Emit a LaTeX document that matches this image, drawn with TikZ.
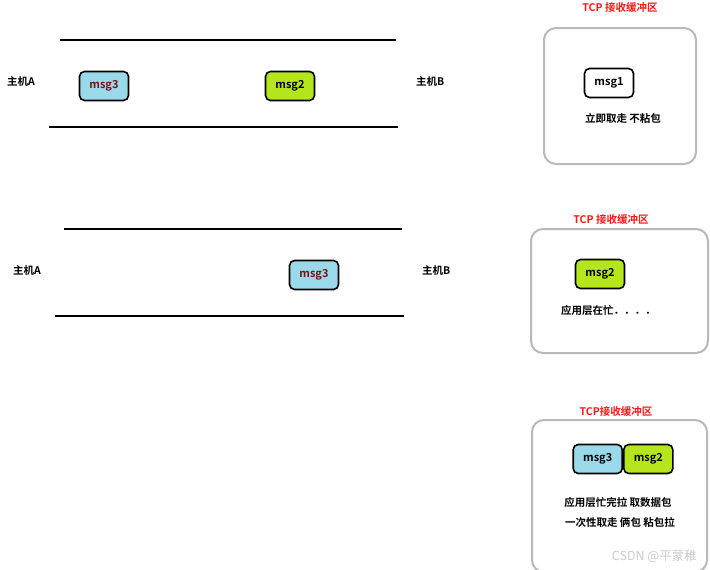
\documentclass[tikz,border=0pt]{standalone}
\usepackage{fontspec}
\setmainfont{Noto Sans CJK SC}[BoldFont={* Bold}]
\newfontfamily\cjkb{Noto Sans CJK SC Bold}
\begin{document}
\begin{tikzpicture}[x=1pt,y=-1pt,
  lbl/.style={font=\cjkb\fontsize{10.5}{12}\selectfont, inner sep=0pt},
  ttl/.style={font=\cjkb\fontsize{10.5}{12}\selectfont, inner sep=0pt, text=red!90!white},
  msgbox/.style={draw=black, line width=1.6pt, rounded corners=5pt, minimum width=49pt, minimum height=29pt, inner sep=0pt, font=\cjkb\fontsize{11}{12}\selectfont},
  blue3/.style={msgbox, fill=cyan3},
  green2/.style={msgbox, fill=green2c},
  wire/.style={line width=2pt, black},
  buf/.style={draw=gray!55, line width=2pt, rounded corners=12pt}]
\definecolor{cyan3}{HTML}{99D9EA}
\definecolor{green2c}{HTML}{B5E61D}
\definecolor{msgred}{HTML}{7A1212}
\useasboundingbox (0,0) rectangle (710,570);
\fill[white] (0,0) rectangle (710,570);
% ---------- panel 1 ----------
\coordinate (t1a) at (60,40); \coordinate (t1b) at (396,40);
\coordinate (b1a) at (49,127); \coordinate (b1b) at (398,127);
\draw[wire] (t1a) -- (t1b);
\draw[wire] (b1a) -- (b1b);
\node[lbl, anchor=west] (hA1) at (7,81) {主机A};
\node[lbl, anchor=west] (hB1) at (416,81) {主机B};
\node[blue3, text=msgred] (m31) at (104,86) {msg3};
\node[green2] (m21) at (290,86) {msg2};
\node[ttl] (ttl1) at (620,8) {TCP 接收缓冲区};
\draw[buf] (544,28) rectangle (696,164);
\node[msgbox, fill=white] (m11) at (609,83) {msg1};
\node[lbl] (txt1) at (623,118) {立即取走 不粘包};
% ---------- panel 2 ----------
\coordinate (t2a) at (64,229); \coordinate (t2b) at (402,229);
\coordinate (b2a) at (55,316); \coordinate (b2b) at (404,316);
\draw[wire] (t2a) -- (t2b);
\draw[wire] (b2a) -- (b2b);
\node[lbl, anchor=west] (hA2) at (13,270) {主机A};
\node[lbl, anchor=west] (hB2) at (422,270) {主机B};
\node[blue3, text=msgred] (m32) at (314,275) {msg3};
\node[ttl] (ttl2) at (611,220) {TCP 接收缓冲区};
\draw[buf] (531,229) rectangle (708,353);
\node[green2] (m22) at (600,274) {msg2};
\node[lbl, anchor=west] (txt2) at (561,311) {应用层在忙．．．．};
% ---------- panel 3 ----------
\node[ttl] (ttl3) at (616,412) {TCP接收缓冲区};
\draw[buf] (532,420) rectangle (707,572);
\node[blue3, anchor=east] (m33) at (623,459) {msg3};
\node[green2, anchor=west] (m23) at (623,459) {msg2};
\node[lbl] (txt3) at (618,502) {应用层忙完拉 取数据包};
\node[lbl] (txt4) at (620,522) {一次性取走 俩包 粘包拉};
\node[font=\fontsize{12.5}{14}\selectfont, text=gray!40, inner sep=0pt, anchor=east] (wm) at (697,556) {CSDN @平蒙稚};
\end{tikzpicture}
\end{document}
